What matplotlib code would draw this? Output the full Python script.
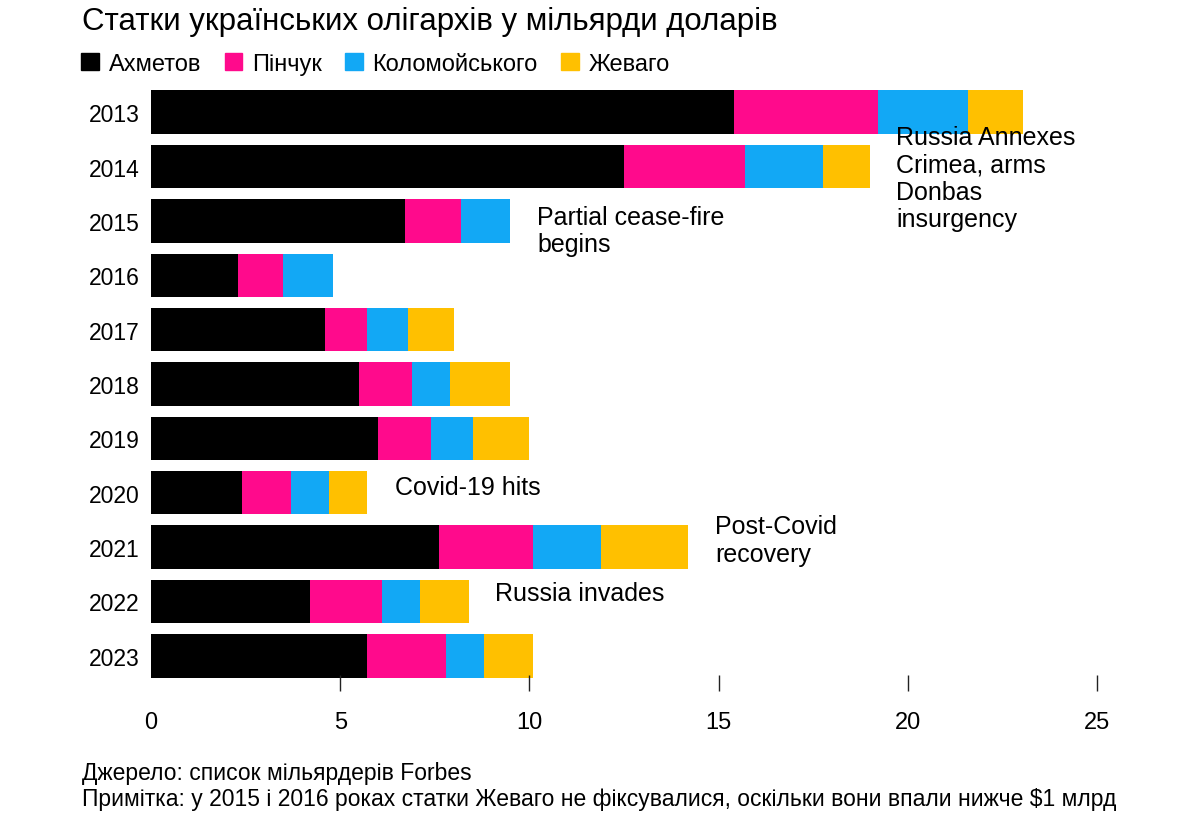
import numpy as np
import matplotlib
matplotlib.use("Agg")
import matplotlib.pyplot as plt
from matplotlib.patches import Patch

plt.rcParams['font.family'] = ['Liberation Sans', 'DejaVu Sans']

years = ['2013', '2014', '2015', '2016', '2017', '2018', '2019', '2020', '2021', '2022', '2023']
names = ['Ахметов', 'Пінчук', 'Коломойського', 'Жеваго']
akhmetov = [15.4, 12.5, 6.7, 2.3, 4.6, 5.5, 6.0, 2.4, 7.6, 4.2, 5.7]
pinchuk = [3.8, 3.2, 1.5, 1.2, 1.1, 1.4, 1.4, 1.3, 2.5, 1.9, 2.1]
kolomoisky = [2.4, 2.05, 1.3, 1.3, 1.1, 1.0, 1.1, 1.0, 1.8, 1.0, 1.0]
zhevago = [1.45, 1.25, 0, 0, 1.2, 1.6, 1.5, 1.0, 2.3, 1.3, 1.3]
colors = ['#000000', '#ff0a8c', '#12a8f5', '#ffc000']

notes = [
    (19.7, 0.24, 'top', 'Russia Annexes\nCrimea, arms\nDonbas\ninsurgency'),
    (10.2, 1.7, 'top', 'Partial cease-fire\nbegins'),
    (6.45, 6.89, 'center', 'Covid-19 hits'),
    (14.9, 7.4, 'top', 'Post-Covid\nrecovery'),
    (9.1, 8.84, 'center', 'Russia invades'),
]

fig = plt.figure(figsize=(12, 8.28), dpi=100)
ax = fig.add_axes([151 / 1200, 1 - 684 / 828, (1097 - 151) / 1200, (684 - 86) / 828])

y = np.arange(len(years))
left = np.zeros(len(years))
for vals, c, n in zip([akhmetov, pinchuk, kolomoisky, zhevago], colors, names):
    ax.barh(y, vals, left=left, height=0.8, color=c, label=n, linewidth=0)
    left += np.array(vals)

ax.set_xlim(0, 25)
ax.set_ylim(len(years) - 0.5, -0.5)
ax.set_yticks(y)
ax.set_yticklabels(years, fontsize=16.5)
ax.set_xticks([0, 5, 10, 15, 20, 25])
ax.tick_params(axis='y', length=0, pad=8)
ax.tick_params(axis='x', length=12, width=1, direction='inout', labelsize=17, pad=14, color='#222222')
ax.xaxis.get_major_ticks()[0].tick1line.set_visible(False)
for s in ax.spines.values():
    s.set_visible(False)

for xx, yy, va, t in notes:
    ax.text(xx, yy, t, fontsize=18, va=va, ha='left', linespacing=1.18)

fig.text(82 / 1200, 1 - 22 / 828, 'Статки українських олігархів у мільярди доларів',
         fontsize=22.5, va='center', ha='left')
handles = [Patch(color=c) for c in colors]
fig.legend(handles, names, loc='center left', bbox_to_anchor=(72 / 1200, 1 - 65 / 828), ncol=4,
           frameon=False, fontsize=17, handlelength=0.75, handleheight=0.75, handletextpad=0.4,
           columnspacing=1.0, borderaxespad=0)
fig.text(82 / 1200, 1 - 774 / 828, 'Джерело: список мільярдерів Forbes', fontsize=16.5, va='center')
fig.text(82 / 1200, 1 - 800 / 828,
         'Примітка: у 2015 і 2016 роках статки Жеваго не фіксувалися, оскільки вони впали нижче $1 млрд',
         fontsize=16.5, va='center')

fig.savefig('out.png', dpi=100)
